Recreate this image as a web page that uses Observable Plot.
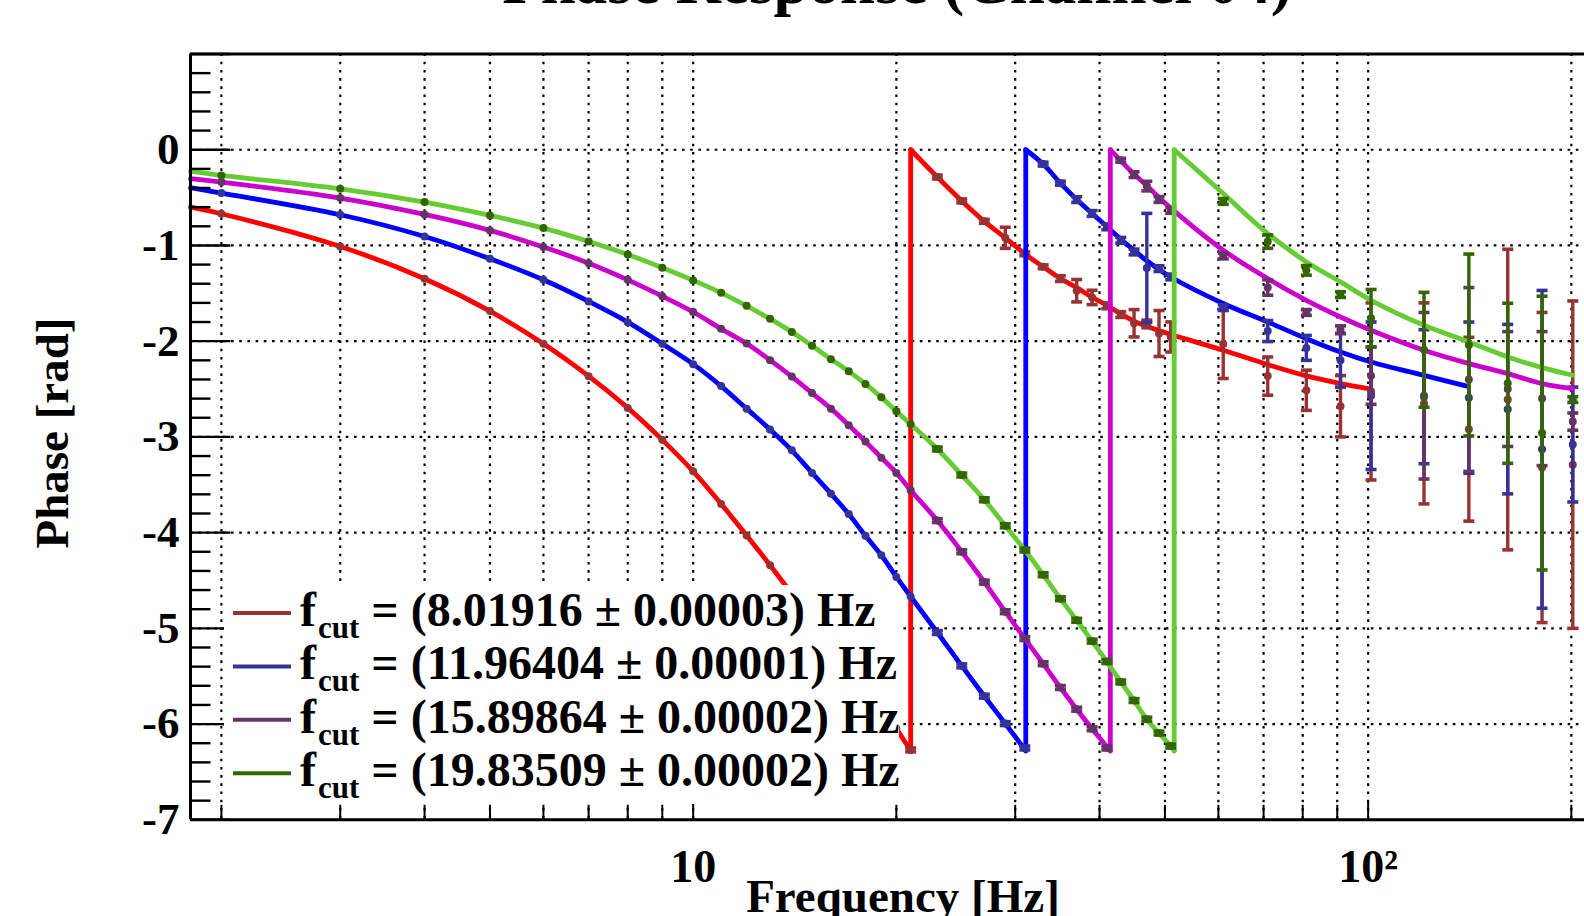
<!DOCTYPE html>
<html>
<head>
<meta charset="utf-8">
<script src="https://cdn.jsdelivr.net/npm/d3@7"></script>
<script src="https://cdn.jsdelivr.net/npm/@observablehq/plot@0.6"></script>
<style>
html,body{margin:0;padding:0;background:#fff;overflow:hidden;}
#chart svg{display:block;}
</style>
</head>
<body>
<div id="chart"></div>
<script>
// ---------- data ----------
const freqs = [2,3,4,5,6,7,8,9,10,11,12,13,14,15,16,17,18,19,20,21,23,25,27,29,31,33,35,37,39,41,43,45,47,49,51,61,71,81,91,101,121,141,161,181,201];

const redPhase = [-0.669,-1.010,-1.348,-1.686,-2.028,-2.366,-2.697,-3.031,-3.36,-3.70,-4.03,-4.34,-4.64,-4.92,-5.18,-5.42,-5.64,-5.85,-6.05,-6.27,
  -0.285,-0.535,-0.748,-0.92,-1.087,-1.223,-1.346,-1.473,-1.543,-1.631,-1.722,-1.813,-1.82,-1.92,-1.956,
  -2.03,-2.365,-2.513,-2.68,-2.525,-2.65,-2.92,-2.61,-3.32,-3.29];
const redErr = [0,0,0,0,0,0,0,0,0,0,0,0,0,0,0,0,0,0,0,0.02,
  0.02,0.02,0.02,0.11,0.02,0.02,0.03,0.117,0.075,0.03,0.03,0.143,0.04,0.24,0.157,
  0.36,0.2,0.21,0.32,0.925,1.05,0.96,1.57,1.62,1.71];

const bluePhase = [-0.453,-0.679,-0.906,-1.139,-1.359,-1.585,-1.801,-2.028,-2.24,-2.469,-2.705,-2.922,-3.140,-3.376,-3.593,-3.806,-4.033,-4.236,-4.463,-4.667,
  -5.043,-5.392,-5.709,-5.995,-6.25,-0.150,-0.349,-0.521,-0.666,-0.806,-0.946,-1.068,-1.235,-1.242,-1.329,
  -1.65,-1.894,-2.07,-2.2,-2.57,-2.58,-2.59,-2.71,-3.13,-3.08];
const blueErr = [0,0,0,0,0,0,0,0,0,0,0,0,0,0,0,0,0,0,0,0,
  0.02,0.02,0.02,0.02,0.02,0.02,0.02,0.03,0.03,0.03,0.03,0.03,0.57,0.03,0.03,
  0.03,0.11,0.13,0.28,0.77,0.7,0.79,0.885,1.66,0.6];

const magentaPhase = [-0.338,-0.505,-0.676,-0.843,-1.017,-1.185,-1.359,-1.530,-1.695,-1.871,-2.025,-2.198,-2.370,-2.542,-2.705,-2.877,-3.049,-3.217,-3.376,-3.557,
  -3.874,-4.200,-4.517,-4.826,-5.107,-5.369,-5.618,-5.845,-6.049,-6.25,-0.11,-0.26,-0.38,-0.52,-0.634,
  -1.11,-1.44,-1.70,-1.88,-2.36,-2.57,-2.40,-2.5,-2.6,-2.84];
const magentaErr = [0,0,0,0,0,0,0,0,0,0,0,0,0,0,0,0,0,0,0,0,
  0.02,0.02,0.02,0.02,0.02,0.02,0.02,0.02,0.02,0.02,0.02,0.03,0.05,0.03,0.03,
  0.03,0.08,0.03,0.04,0.3,0.87,0.96,0.6,0.7,0.09];

const greenPhase = [-0.268,-0.408,-0.547,-0.686,-0.819,-0.958,-1.094,-1.233,-1.365,-1.495,-1.631,-1.767,-1.903,-2.048,-2.188,-2.315,-2.447,-2.587,-2.732,-2.868,
  -3.126,-3.398,-3.657,-3.928,-4.182,-4.44,-4.69,-4.916,-5.134,-5.347,-5.56,-5.754,-5.949,-6.094,-6.23,
  -0.54,-0.96,-1.26,-1.513,-1.76,-2.09,-2.04,-2.44,-2.96,-2.61];
const greenErr = [0,0,0,0,0,0,0,0,0,0,0,0,0,0,0,0,0,0,0,0,
  0.02,0.02,0.02,0.02,0.02,0.02,0.02,0.02,0.02,0.02,0.02,0.02,0.02,0.02,0.02,
  0.03,0.07,0.05,0.03,0.3,0.6,0.95,0.836,1.43,0.03];

// fitted curves (a repeated frequency marks the 2π wrap)
const redFitFreq = [1.8,2,3,4,5,6,7,8,9,10,11,12,13,14,15,16,17,18,19,20,21,21,23,25,27,29,31,33,35,37,39,41,43,45,47,49,51,61,71,81,91,100];
const redFitPhase = [-0.60,-0.669,-1.010,-1.348,-1.686,-2.028,-2.366,-2.697,-3.031,-3.36,-3.70,-4.03,-4.34,-4.64,-4.92,-5.18,-5.42,-5.64,-5.85,-6.05,-6.28,
  0,-0.285,-0.535,-0.748,-0.92,-1.087,-1.223,-1.346,-1.44,-1.541,-1.625,-1.715,-1.79,-1.844,-1.89,-1.93,-2.095,-2.245,-2.363,-2.443,-2.496];

const blueFitFreq = [1.8,2,3,4,5,6,7,8,9,10,11,12,13,14,15,16,17,18,19,20,21,23,25,27,29,31.1,31.1,33,35,37,39,41,43,45,47,49,51,61,71,81,91,101,121,140];
const blueFitPhase = [-0.397,-0.453,-0.679,-0.906,-1.139,-1.359,-1.585,-1.801,-2.028,-2.24,-2.469,-2.705,-2.922,-3.140,-3.376,-3.593,-3.806,-4.033,-4.236,-4.463,-4.667,-5.043,-5.392,-5.709,-5.995,-6.28,
  0,-0.15,-0.349,-0.521,-0.666,-0.802,-0.935,-1.05,-1.16,-1.25,-1.33,-1.607,-1.80,-1.974,-2.113,-2.217,-2.357,-2.47];

const magentaFitFreq = [1.8,2,3,4,5,6,7,8,9,10,11,12,13,14,15,16,17,18,19,20,21,23,25,27,29,31,33,35,37,39,41.5,41.5,43,45,47,49,51,61,71,81,91,101,121,141,161,181,201];
const magentaFitPhase = [-0.303,-0.338,-0.505,-0.676,-0.843,-1.017,-1.185,-1.359,-1.530,-1.695,-1.871,-2.025,-2.198,-2.370,-2.542,-2.705,-2.877,-3.049,-3.217,-3.376,-3.557,-3.874,-4.200,-4.517,-4.826,-5.107,-5.369,-5.618,-5.845,-6.049,-6.28,
  0,-0.115,-0.255,-0.375,-0.5,-0.61,-1.05,-1.346,-1.573,-1.747,-1.886,-2.095,-2.234,-2.339,-2.443,-2.496];

const greenFitFreq = [1.8,2,3,4,5,6,7,8,9,10,11,12,13,14,15,16,17,18,19,20,21,23,25,27,29,31,33,35,37,39,41,43,45,47,49,51,51.6,51.6,61,71,81,91,101,121,141,161,181,201];
const greenFitPhase = [-0.223,-0.268,-0.408,-0.547,-0.686,-0.819,-0.958,-1.094,-1.233,-1.365,-1.495,-1.631,-1.767,-1.903,-2.048,-2.188,-2.315,-2.447,-2.587,-2.732,-2.868,-3.126,-3.398,-3.657,-3.928,-4.182,-4.44,-4.69,-4.916,-5.134,-5.347,-5.56,-5.754,-5.949,-6.094,-6.23,-6.28,
  0,-0.458,-0.876,-1.172,-1.381,-1.573,-1.834,-2.008,-2.165,-2.276,-2.356];

const cutValues = ["8.01916","11.96404","15.89864","19.83509"];
const cutErrors = ["0.00003","0.00001","0.00002","0.00002"];
const fitColors = ["#ff0000","#0000ff","#cc00cc","#66cc33"];
const dataColors = ["#993333","#333399","#663366","#336600"];

const gridFreqs = [2,3,4,5,6,7,8,9,10,20,30,40,50,60,70,80,90,100,200];
const majorFreqs = [10,100];
const gridPhases = [-6,-5,-4,-3,-2,-1,0];
const yTickLabels = ["0","-1","-2","-3","-4","-5","-6","-7"];
const yTickValues = [0,-1,-2,-3,-4,-5,-6,-7];
const xTickLabels = ["10","10²"];
const xTickValues = [10,100];
const titleText = "Phase Response (Channel 04)";
const xTitle = "Frequency [Hz]";
const yTitle = "Phase [rad]";

// ---------- build tables ----------
const phases = [redPhase, bluePhase, magentaPhase, greenPhase];
const errs = [redErr, blueErr, magentaErr, greenErr];
const fitF = [redFitFreq, blueFitFreq, magentaFitFreq, greenFitFreq];
const fitV = [redFitPhase, blueFitPhase, magentaFitPhase, greenFitPhase];

function fitRows(s) {
  const F = fitF[s], V = fitV[s], rows = [];
  let seg = 0;
  for (let i = 0; i < F.length; i++) {
    if (i > 0 && F[i] === F[i-1]) {
      rows.push({f: F[i-1], v: V[i-1], key: "j" + seg});
      rows.push({f: F[i], v: V[i], key: "j" + seg});
      seg++;
    }
    rows.push({f: F[i], v: V[i], key: "s" + seg});
  }
  return rows;
}
function dataRows(s) {
  return freqs.map((f, i) => ({f, v: phases[s][i], e: errs[s][i]}));
}

const yMinor = d3.range(-7, 1.001, 0.2).filter(v => Math.abs(v - Math.round(v)) > 1e-6);
const yMajor = d3.range(-7, 2, 1);
const xMinor = gridFreqs.filter(f => !majorFreqs.includes(f));

const sym = {
  up: len => ({draw(ctx){ ctx.moveTo(0,0); ctx.lineTo(0,-len); }}),
  right: len => ({draw(ctx){ ctx.moveTo(0,0); ctx.lineTo(len,0); }}),
  cap: w => ({draw(ctx){ ctx.moveTo(-w/2,0); ctx.lineTo(w/2,0); }})
};

const FONT = "'Liberation Serif','Times New Roman',Times,serif";
const grid = {stroke: "#000", strokeWidth: 2.2, strokeDasharray: "2.6,5.6"};

const marks = [
  Plot.ruleX(gridFreqs, grid),
  Plot.ruleY(gridPhases, grid)
];
for (let s = 0; s < 4; s++) {
  const rows = dataRows(s);
  const withErr = rows.filter(d => d.e > 0);
  marks.push(
    Plot.line(fitRows(s), {x: "f", y: "v", z: "key", stroke: fitColors[s], strokeWidth: 4.8, curve: "catmull-rom"}),
    Plot.ruleX(withErr, {x: "f", y1: d => d.v - d.e, y2: d => d.v + d.e, stroke: dataColors[s], strokeWidth: 3.4}),
    Plot.dot(withErr, {x: "f", y: d => d.v - d.e, symbol: sym.cap(11), r: 3, fill: "none", stroke: dataColors[s], strokeWidth: 3.6}),
    Plot.dot(withErr, {x: "f", y: d => d.v + d.e, symbol: sym.cap(11), r: 3, fill: "none", stroke: dataColors[s], strokeWidth: 3.6}),
    Plot.dot(rows, {x: "f", y: "v", r: 4, fill: dataColors[s], stroke: "none"})
  );
}
marks.push(
  // frame (left, top, bottom)
  Plot.ruleX([1.8], {stroke: "#000", strokeWidth: 3}),
  Plot.ruleY([1, -7], {stroke: "#000", strokeWidth: 3}),
  // ticks
  Plot.dot(yMajor, {x: 1.8, y: d => d, symbol: sym.right(40), r: 3, fill: "none", stroke: "#000", strokeWidth: 2.4}),
  Plot.dot(yMinor, {x: 1.8, y: d => d, symbol: sym.right(20), r: 3, fill: "none", stroke: "#000", strokeWidth: 2.4}),
  Plot.dot(majorFreqs, {x: d => d, y: -7, symbol: sym.up(19), r: 3, fill: "none", stroke: "#000", strokeWidth: 2}),
  Plot.dot(xMinor, {x: d => d, y: -7, symbol: sym.up(15), r: 3, fill: "none", stroke: "#000", strokeWidth: 2}),
  // tick labels
  Plot.text(yTickValues, {frameAnchor: "left", y: d => d, text: (d, i) => yTickLabels[i], dx: -11, textAnchor: "end",
    fontSize: 45, fontWeight: "bold", fontFamily: FONT, fill: "#000"}),
  Plot.text(xTickValues, {x: d => d, frameAnchor: "bottom", text: (d, i) => xTickLabels[i], dy: 62, textAnchor: "middle",
    fontSize: 46, fontWeight: "bold", fontFamily: FONT, fill: "#000"})
);

const chart = Plot.plot({
  width: 1584, height: 916,
  marginLeft: 190, marginRight: 0, marginTop: 53.5, marginBottom: 96.7,
  x: {type: "log", domain: [1.8, 209.2], axis: null},
  y: {domain: [-7, 1], axis: null},
  style: {background: "#fff", overflow: "visible"},
  marks
});

const svg = d3.select(chart);
// legend (white box covering the curves, as in the original)
const lg = svg.append("g").attr("text-anchor", "start");
lg.append("rect").attr("x", 224).attr("y", 585).attr("width", 675).attr("height", 219).attr("fill", "#fff");
for (let i = 0; i < 4; i++) {
  const yy = 613 + i * 53.4;
  lg.append("line").attr("x1", 233).attr("x2", 291).attr("y1", yy).attr("y2", yy)
    .attr("stroke", dataColors[i]).attr("stroke-width", 4);
  const t = lg.append("text").attr("x", 300).attr("y", yy + 13).attr("text-anchor", "start")
    .attr("font-family", FONT).attr("font-weight", "bold").attr("font-size", 48).attr("fill", "#000");
  t.append("tspan").text("f");
  t.append("tspan").attr("font-size", 31).attr("dy", 12).attr("dx", 2).text("cut");
  t.append("tspan").attr("dy", -12).text(" = (" + cutValues[i] + " \u00b1 " + cutErrors[i] + ") Hz");
}
// titles
svg.append("text").attr("x", 897).attr("y", 3).attr("text-anchor", "middle")
  .attr("font-family", FONT).attr("font-weight", "bold").attr("font-size", 63).attr("fill", "#000").text(titleText);
svg.append("text").attr("x", 903).attr("y", 912).attr("text-anchor", "middle")
  .attr("font-family", FONT).attr("font-weight", "bold").attr("font-size", 47).attr("fill", "#000").text(xTitle);
svg.append("text").attr("transform", "translate(68,433) rotate(-90)").attr("text-anchor", "middle")
  .attr("font-family", FONT).attr("font-weight", "bold").attr("font-size", 47).attr("fill", "#000").text(yTitle);

document.getElementById("chart").appendChild(chart);
</script>
</body>
</html>
